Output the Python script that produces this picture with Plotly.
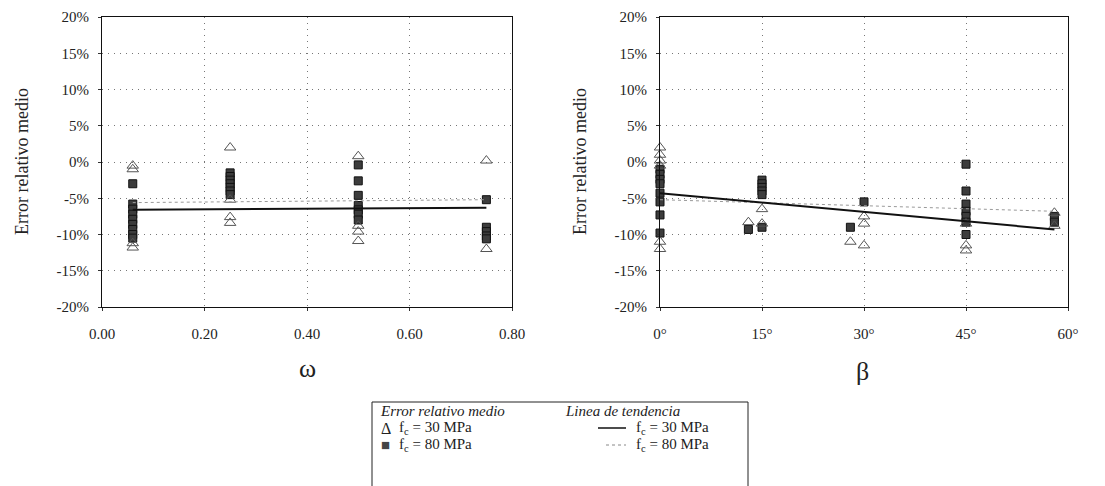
import plotly.graph_objects as go

# ---------------- data ----------------
# Left panel (omega)
omega30_x = [0.06, 0.06, 0.06, 0.06, 0.25, 0.25, 0.25, 0.25, 0.50, 0.50, 0.50, 0.50, 0.75, 0.75]
omega30_y = [-0.5, -1.0, -11.2, -11.8, 2.0, -5.2, -7.6, -8.4, 0.8, -8.8, -9.6, -10.9, 0.2, -12.0]

omega80_x = [0.06] * 9 + [0.25] * 7 + [0.50] * 7 + [0.75] * 5
omega80_y = [-3.0, -5.8, -6.5, -7.2, -7.9, -8.6, -9.3, -10.0, -10.5,
             -1.5, -2.0, -2.5, -3.0, -3.5, -4.0, -4.5,
             -0.4, -2.6, -4.6, -6.0, -6.6, -7.2, -8.0,
             -5.2, -9.0, -9.6, -10.2, -10.6]

omega_trend_x = [0.06, 0.75]
omega_trend30_y = [-6.6, -6.3]
omega_trend80_y = [-5.6, -5.2]

# Right panel (beta, degrees)
beta30_x = [0, 0, 0, 0, 0, 0, 13, 15, 15, 28, 30, 30, 30, 45, 45, 45, 58, 58]
beta30_y = [2.0, 1.0, 0.2, -0.5, -11.0, -12.0, -8.3, -6.5, -8.5, -11.0,
            -7.5, -8.5, -11.5, -8.5, -11.5, -12.2, -7.0, -8.8]

beta80_x = [0] * 8 + [13] + [15] * 6 + [28, 30] + [45] * 7 + [58, 58]
beta80_y = [-1.0, -1.7, -2.4, -3.0, -4.3, -5.5, -7.3, -9.8,
            -9.3,
            -2.5, -3.0, -3.5, -4.0, -4.5, -9.0,
            -9.0, -5.5,
            -0.3, -4.0, -5.8, -6.8, -7.5, -8.3, -10.0,
            -7.5, -8.3]

beta_trend_x = [0, 58]
beta_trend30_y = [-4.3, -9.3]
beta_trend80_y = [-5.2, -6.8]

y_tickvals = [20, 15, 10, 5, 0, -5, -10, -15, -20]
y_ticktext = ["20%", "15%", "10%", "5%", "0%", "-5%", "-10%", "-15%", "-20%"]
omega_tickvals = [0.0, 0.2, 0.4, 0.6, 0.8]
omega_ticktext = ["0.00", "0.20", "0.40", "0.60", "0.80"]
beta_tickvals = [0, 15, 30, 45, 60]
beta_ticktext = ["0°", "15°", "30°", "45°", "60°"]

# ---------------- figure ----------------
W, H = 1105, 486
FONT = "Liberation Serif, Times New Roman, serif"
fig = go.Figure()

tri = dict(symbol="triangle-up-open", size=10, color="#555555", line=dict(width=1, color="#444444"))
sq = dict(symbol="square", size=8, color="#3c3c3c", line=dict(width=1, color="#111111"))

# left
fig.add_trace(go.Scatter(x=omega80_x, y=omega80_y, mode="markers", marker=sq, cliponaxis=False,
                         xaxis="x", yaxis="y"))
fig.add_trace(go.Scatter(x=omega30_x, y=omega30_y, mode="markers", marker=tri, cliponaxis=False,
                         xaxis="x", yaxis="y"))
fig.add_trace(go.Scatter(x=omega_trend_x, y=omega_trend80_y, mode="lines",
                         line=dict(color="#9a9a9a", width=1, dash="dot"), xaxis="x", yaxis="y"))
fig.add_trace(go.Scatter(x=omega_trend_x, y=omega_trend30_y, mode="lines",
                         line=dict(color="#111111", width=2), xaxis="x", yaxis="y"))
# right
fig.add_trace(go.Scatter(x=beta80_x, y=beta80_y, mode="markers", marker=sq, cliponaxis=False,
                         xaxis="x2", yaxis="y2"))
fig.add_trace(go.Scatter(x=beta30_x, y=beta30_y, mode="markers", marker=tri, cliponaxis=False,
                         xaxis="x2", yaxis="y2"))
fig.add_trace(go.Scatter(x=beta_trend_x, y=beta_trend80_y, mode="lines",
                         line=dict(color="#9a9a9a", width=1, dash="dot"), xaxis="x2", yaxis="y2"))
fig.add_trace(go.Scatter(x=beta_trend_x, y=beta_trend30_y, mode="lines",
                         line=dict(color="#111111", width=2), xaxis="x2", yaxis="y2"))


def px(x):
    return x / W


def py(y):
    return 1 - y / H


ydom = [py(307), py(17)]
axis_common = dict(showline=True, linecolor="#111111", linewidth=1.2, mirror=True,
                   showgrid=True, gridcolor="#777777", griddash="1px,5px", gridwidth=1.2,
                   zeroline=False, ticks="outside", ticklen=3, tickcolor="#333333",
                   automargin=False,
                   tickfont=dict(family=FONT, size=15, color="#222222"))

fig.update_layout(
    width=W, height=H, margin=dict(l=0, r=0, t=0, b=0),
    paper_bgcolor="white", plot_bgcolor="white", showlegend=False,
    font=dict(family=FONT, color="#222222"),
    xaxis=dict(domain=[px(102), px(512)], range=[0, 0.8], tickvals=omega_tickvals,
               ticktext=omega_ticktext, anchor="y", **axis_common),
    yaxis=dict(domain=ydom, range=[-20, 20], tickvals=y_tickvals, ticktext=y_ticktext,
               anchor="x", **axis_common),
    xaxis2=dict(domain=[px(660), px(1068)], range=[0, 60], tickvals=beta_tickvals,
                ticktext=beta_ticktext, anchor="y2", **axis_common),
    yaxis2=dict(domain=ydom, range=[-20, 20], tickvals=y_tickvals, ticktext=y_ticktext,
                anchor="x2", **axis_common),
)
fig.update_xaxes(ticklabelstandoff=10)
fig.update_yaxes(ticklabelstandoff=6)

ann = []
# axis titles
for xt in (22, 580):
    ann.append(dict(text="Error relativo medio", x=px(xt), y=py(162), xref="paper", yref="paper",
                    xanchor="center", yanchor="middle", textangle=-90, showarrow=False,
                    font=dict(family=FONT, size=18, color="#222")))
ann.append(dict(text="ω", x=px(307), y=py(368), xref="paper", yref="paper", showarrow=False,
                xanchor="center", yanchor="middle", font=dict(family=FONT, size=26, color="#222")))
ann.append(dict(text="β", x=px(862), y=py(371), xref="paper", yref="paper", showarrow=False,
                xanchor="center", yanchor="middle", font=dict(family=FONT, size=26, color="#222")))


def lab(text, x, y, size=15, italic=False, color="#222"):
    return dict(text=f"<i>{text}</i>" if italic else text, x=px(x), y=py(y), xref="paper", yref="paper",
                xanchor="left", yanchor="middle", showarrow=False,
                font=dict(family=FONT, size=size, color=color))


ann.append(lab("Error relativo medio", 378, 411, italic=True))
ann.append(lab("Linea de tendencia", 563, 411, italic=True))
ann.append(lab("Δ", 379, 428, size=16))
ann.append(lab("f<sub>c</sub> = 30 MPa", 397, 428))
ann.append(lab("■", 379, 445, size=15, color="#444"))
ann.append(lab("f<sub>c</sub> = 80 MPa", 397, 445))
ann.append(lab("f<sub>c</sub> = 30 MPa", 634, 428))
ann.append(lab("f<sub>c</sub> = 80 MPa", 634, 445))

shapes = [
    dict(type="rect", xref="paper", yref="paper", x0=px(372), x1=px(748), y0=py(500), y1=py(402),
         line=dict(color="#222", width=1), fillcolor="rgba(0,0,0,0)"),
    dict(type="line", xref="paper", yref="paper", x0=px(598), x1=px(626), y0=py(428), y1=py(428),
         line=dict(color="#111", width=1.5)),
    dict(type="line", xref="paper", yref="paper", x0=px(606), x1=px(626), y0=py(445), y1=py(445),
         line=dict(color="#888", width=1, dash="dot")),
]
fig.update_layout(annotations=ann, shapes=shapes)

fig.write_html("out.html", config={"displayModeBar": False},
               post_script="document.body.style.margin='0';document.body.style.overflow='hidden';")
